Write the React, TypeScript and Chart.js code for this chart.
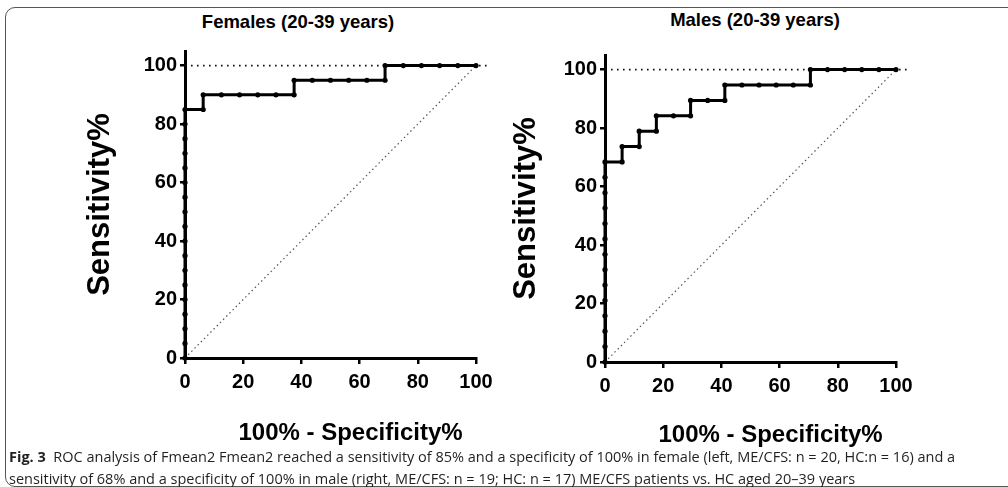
import React, { useEffect, useRef } from "react";
import { Chart, registerables } from "chart.js";

Chart.register(...registerables);

const FONT_BOLD = "'Liberation Sans', Arial, sans-serif";
const FONT_CAPTION = "'Open Sans', 'Noto Sans', sans-serif";

// Tick labels
const xTicks = [0, 20, 40, 60, 80, 100];
const yTicks = [0, 20, 40, 60, 80, 100];

// Females (20-39 years): 100% - Specificity% (x) vs Sensitivity% (y)
const femaleX = [
  0, 0, 0, 0, 0, 0, 0, 0, 0, 0, 0, 0, 0, 0, 0, 0, 0, 0,
  6.25, 6.25,
  12.5, 18.75, 25, 31.25, 37.5,
  37.5, 43.75, 50, 56.25, 62.5, 68.75,
  68.75, 75, 81.25, 87.5, 93.75, 100,
];
const femaleY = [
  0, 5, 10, 15, 20, 25, 30, 35, 40, 45, 50, 55, 60, 65, 70, 75, 80, 85,
  85, 90,
  90, 90, 90, 90, 90,
  95, 95, 95, 95, 95, 95,
  100, 100, 100, 100, 100, 100,
];

// Males (20-39 years)
const maleX = [
  0, 0, 0, 0, 0, 0, 0, 0, 0, 0, 0, 0, 0, 0,
  5.88, 5.88,
  11.76, 11.76,
  17.65, 17.65,
  23.53,
  29.41, 29.41,
  35.29,
  41.18, 41.18,
  47.06, 52.94, 58.82, 64.71, 70.59,
  70.59, 76.47, 82.35, 88.24, 94.12, 100,
];
const maleY = [
  0, 5.26, 10.53, 15.79, 21.05, 26.32, 31.58, 36.84, 42.11, 47.37, 52.63, 57.89, 63.16, 68.42,
  68.42, 73.68,
  73.68, 78.95,
  78.95, 84.21,
  84.21,
  84.21, 89.47,
  89.47,
  89.47, 94.74,
  94.74, 94.74, 94.74, 94.74, 94.74,
  100, 100, 100, 100, 100, 100,
];

// Reference lines
const diagX = [0, 100];
const diagY = [0, 100];
const topLineX = [0, 104];
const topLineY = [100, 100];

const toPts = (xs: number[], ys: number[]) => xs.map((x, i) => ({ x, y: ys[i] }));

type Geo = {
  left: number;
  top: number;
  width: number;
  height: number;
  padL: number;
  padR: number;
  padT: number;
  yAxisW: number;
  yTitlePad: number;
  xAxisH: number;
  xTitlePadB: number;
};

function RocChart({ geo, xs, ys }: { geo: Geo; xs: number[]; ys: number[] }) {
  const ref = useRef<HTMLCanvasElement | null>(null);
  useEffect(() => {
    if (!ref.current) return;
    const chart = new Chart(ref.current, {
      type: "line",
      data: {
        datasets: [
          {
            data: toPts(xs, ys),
            borderColor: "#000",
            backgroundColor: "#000",
            borderWidth: 3,
            pointRadius: 2.6,
            pointBorderWidth: 0,
            pointBackgroundColor: "#000",
            tension: 0,
            clip: false,
          } as any,
          {
            data: toPts(diagX, diagY),
            borderColor: "#555",
            borderWidth: 1.2,
            borderDash: [1.5, 3],
            pointRadius: 0,
            clip: false,
          } as any,
          {
            data: toPts(topLineX, topLineY),
            borderColor: "#111",
            borderWidth: 1.6,
            borderDash: [1.6, 4.4],
            pointRadius: 0,
            clip: false,
          } as any,
        ],
      },
      options: {
        animation: false,
        responsive: true,
        maintainAspectRatio: false,
        layout: { padding: { left: geo.padL, right: geo.padR, top: geo.padT, bottom: 0 } },
        plugins: { legend: { display: false }, tooltip: { enabled: false }, title: { display: false } },
        scales: {
          x: {
            type: "linear",
            min: 0,
            max: 100,
            afterBuildTicks: (s: any) => {
              s.ticks = xTicks.map((v) => ({ value: v }));
            },
            afterFit: (s: any) => {
              s.height = geo.xAxisH;
            },
            ticks: {
              color: "#000",
              padding: 6,
              font: { family: FONT_BOLD, size: 20, weight: "bold" },
            },
            grid: { drawOnChartArea: false, drawTicks: true, tickLength: 6, color: "#000", lineWidth: 2.5 },
            border: { color: "#000", width: 3 },
            title: {
              display: true,
              text: "\u2007\u2007\u2007100% - Specificity%",
              color: "#000",
              font: { family: FONT_BOLD, size: 24, weight: "bold" },
              padding: { top: 0, bottom: geo.xTitlePadB },
            },
          },
          y: {
            type: "linear",
            min: 0,
            max: 105,
            afterBuildTicks: (s: any) => {
              s.ticks = yTicks.map((v) => ({ value: v }));
            },
            afterFit: (s: any) => {
              s.width = geo.yAxisW;
            },
            ticks: {
              color: "#000",
              padding: 3,
              font: { family: FONT_BOLD, size: 20, weight: "bold" },
            },
            grid: { drawOnChartArea: false, drawTicks: true, tickLength: 5, color: "#000", lineWidth: 2.5 },
            border: { color: "#000", width: 3 },
            title: {
              display: true,
              text: "Sensitivity%",
              color: "#000",
              font: { family: FONT_BOLD, size: 31, weight: "bold" },
              padding: { top: geo.yTitlePad, bottom: 0 },
            },
          },
        },
      } as any,
    });
    return () => chart.destroy();
  }, []);
  return (
    <div
      style={{
        position: "absolute",
        left: geo.left,
        top: geo.top,
        width: geo.width,
        height: geo.height,
      }}
    >
      <canvas ref={ref} />
    </div>
  );
}

const leftGeo: Geo = {
  left: 0,
  top: 0,
  width: 500,
  height: 470,
  padL: 70,
  padR: 24,
  padT: 51,
  yAxisW: 115,
  yTitlePad: 11.4,
  xAxisH: 112,
  xTitlePadB: 22,
};

const rightGeo: Geo = {
  left: 500,
  top: 0,
  width: 508,
  height: 470,
  padL: 0,
  padR: 112,
  padT: 55,
  yAxisW: 105,
  yTitlePad: 7.4,
  xAxisH: 108,
  xTitlePadB: 20,
};

export default function App() {
  const titleStyle: React.CSSProperties = {
    position: "absolute",
    textAlign: "center",
    fontFamily: FONT_BOLD,
    fontWeight: "bold",
    fontSize: 18.5,
    lineHeight: "24px",
    color: "#000",
    whiteSpace: "nowrap",
  };
  return (
    <div
      style={{
        position: "fixed",
        left: 0,
        top: 0,
        width: 1008,
        height: 487,
        background: "#fff",
        overflow: "hidden",
      }}
    >
      <div
        style={{
          position: "absolute",
          left: 5,
          top: 7,
          width: 1015,
          height: 480,
          border: "1.5px solid #555",
          borderRadius: 10,
          boxSizing: "border-box",
        }}
      />
      <div style={{ ...titleStyle, left: 0, width: 596, top: 10 }}>Females (20-39 years)</div>
      <div style={{ ...titleStyle, left: 510, width: 490, top: 8 }}>Males (20-39 years)</div>
      <RocChart geo={leftGeo} xs={femaleX} ys={femaleY} />
      <RocChart geo={rightGeo} xs={maleX} ys={maleY} />
      <div
        style={{
          position: "absolute",
          left: 9,
          top: 446,
          fontFamily: FONT_CAPTION,
          fontSize: 14.5,
          lineHeight: "22px",
          color: "#231f20",
          whiteSpace: "nowrap",
        }}
      >
        <b>Fig. 3</b>&nbsp; ROC analysis of Fmean2 Fmean2 reached a sensitivity of 85% and a specificity of 100% in female (left, ME/CFS: n = 20, HC:n = 16) and a
        <br />
        sensitivity of 68% and a specificity of 100% in male (right, ME/CFS: n = 19; HC: n = 17) ME/CFS patients vs. HC aged 20–39 years
      </div>
    </div>
  );
}
